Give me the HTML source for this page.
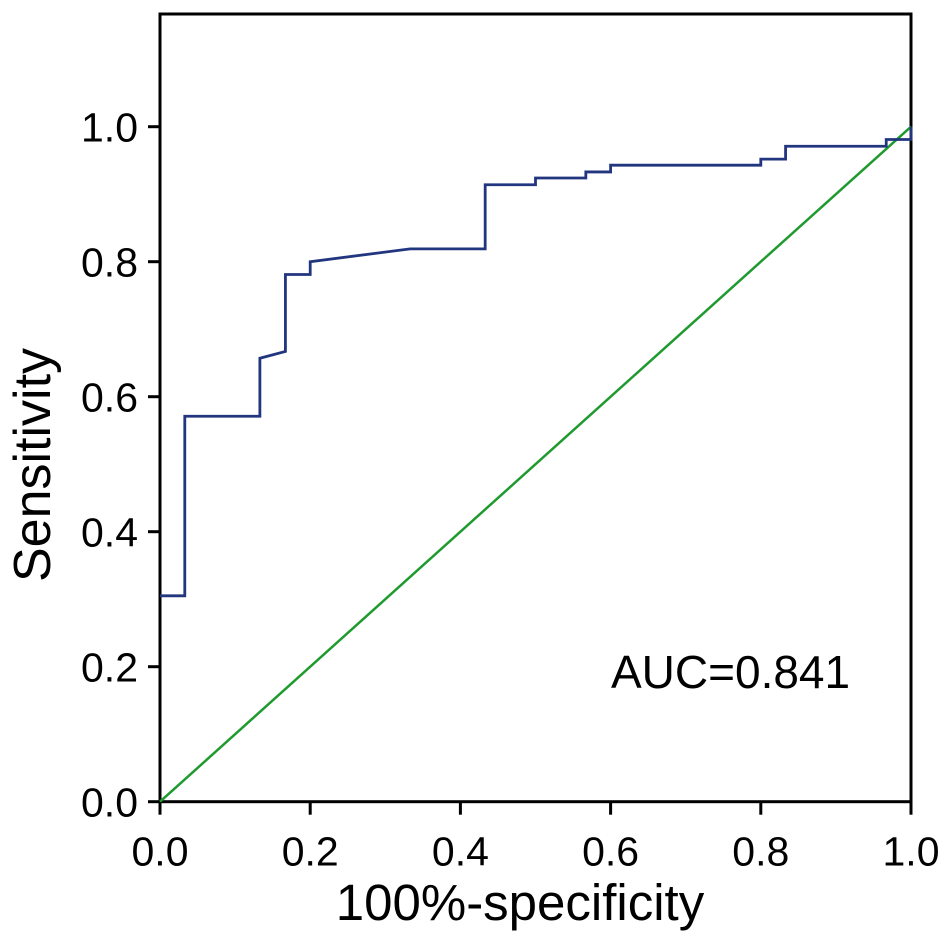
<!DOCTYPE html>
<html><head><meta charset="utf-8"><style>
html,body{margin:0;padding:0;background:#fff;}
svg{display:block;font-family:"Liberation Sans",Arial,sans-serif;}
</style></head><body>
<svg id="chart" width="945" height="945" viewBox="0 0 945 945">
<g id="axes"></g><g id="series"></g>
<text x="611" y="688" font-size="46" fill="#000">AUC=0.841</text>
<text x="520" y="920" font-size="51" text-anchor="middle" fill="#000">100%-specificity</text>
<text transform="translate(50,465) rotate(-90)" font-size="52" text-anchor="middle" fill="#000">Sensitivity</text>
</svg>
<script>
const rocFpr = [0,0.033,0.033,0.133,0.133,0.167,0.167,0.2,0.2,0.333,0.433,0.433,0.5,0.5,0.567,0.567,0.6,0.6,0.8,0.8,0.833,0.833,0.967,0.967,1,1];
const rocTpr = [0.305,0.305,0.571,0.571,0.657,0.667,0.781,0.781,0.8,0.819,0.819,0.914,0.914,0.924,0.924,0.933,0.933,0.943,0.943,0.952,0.952,0.971,0.971,0.981,0.981,1];
const refX = [0,1];
const refY = [0,1];
const xTicks = [0,0.2,0.4,0.6,0.8,1.0];
const yTicks = [0,0.2,0.4,0.6,0.8,1.0];

const X0=160,X1=911,Y0=801.7,Y1=126.7;
const sx=v=>X0+(X1-X0)*v;
const sy=v=>Y0-(Y0-Y1)*v;
const NS='http://www.w3.org/2000/svg';
const axes=document.getElementById('axes');
const series=document.getElementById('series');
function mk(tag,attrs,parent){const e=document.createElementNS(NS,tag);for(const k in attrs)e.setAttribute(k,attrs[k]);parent.appendChild(e);return e;}

const frame=mk('rect',{x:X0,y:14,width:X1-X0,height:Y0-14,fill:'none',stroke:'#000','stroke-width':3},axes);



xTicks.forEach(t=>{
  const l=mk('line',{x1:sx(t),x2:sx(t),y1:Y0,y2:Y0+13,stroke:'#000','stroke-width':3},axes);
  
  
  const tx=mk('text',{x:sx(t),y:Y0+64,'font-size':41,'text-anchor':'middle',fill:'#000'},axes);
  tx.textContent=t.toFixed(1);
  
  
});
yTicks.forEach(t=>{
  const l=mk('line',{x1:X0-12,x2:X0,y1:sy(t),y2:sy(t),stroke:'#000','stroke-width':3},axes);
  
  
  const tx=mk('text',{x:X0-22,y:sy(t)+15,'font-size':41,'text-anchor':'end',fill:'#000'},axes);
  tx.textContent=t.toFixed(1);
  
  
});

const ref=mk('polyline',{points:refX.map((v,i)=>sx(v)+','+sy(refY[i])).join(' '),fill:'none',stroke:'#1f9a2e','stroke-width':2.5},series);



let pts=[sx(0)+','+sy(rocTpr[0])];
rocFpr.forEach((v,i)=>pts.push(sx(v)+','+sy(rocTpr[i])));
const roc=mk('polyline',{points:pts.join(' '),fill:'none',stroke:'#22357f','stroke-width':2.8,'stroke-linejoin':'miter'},series);


</script>
</body></html>
